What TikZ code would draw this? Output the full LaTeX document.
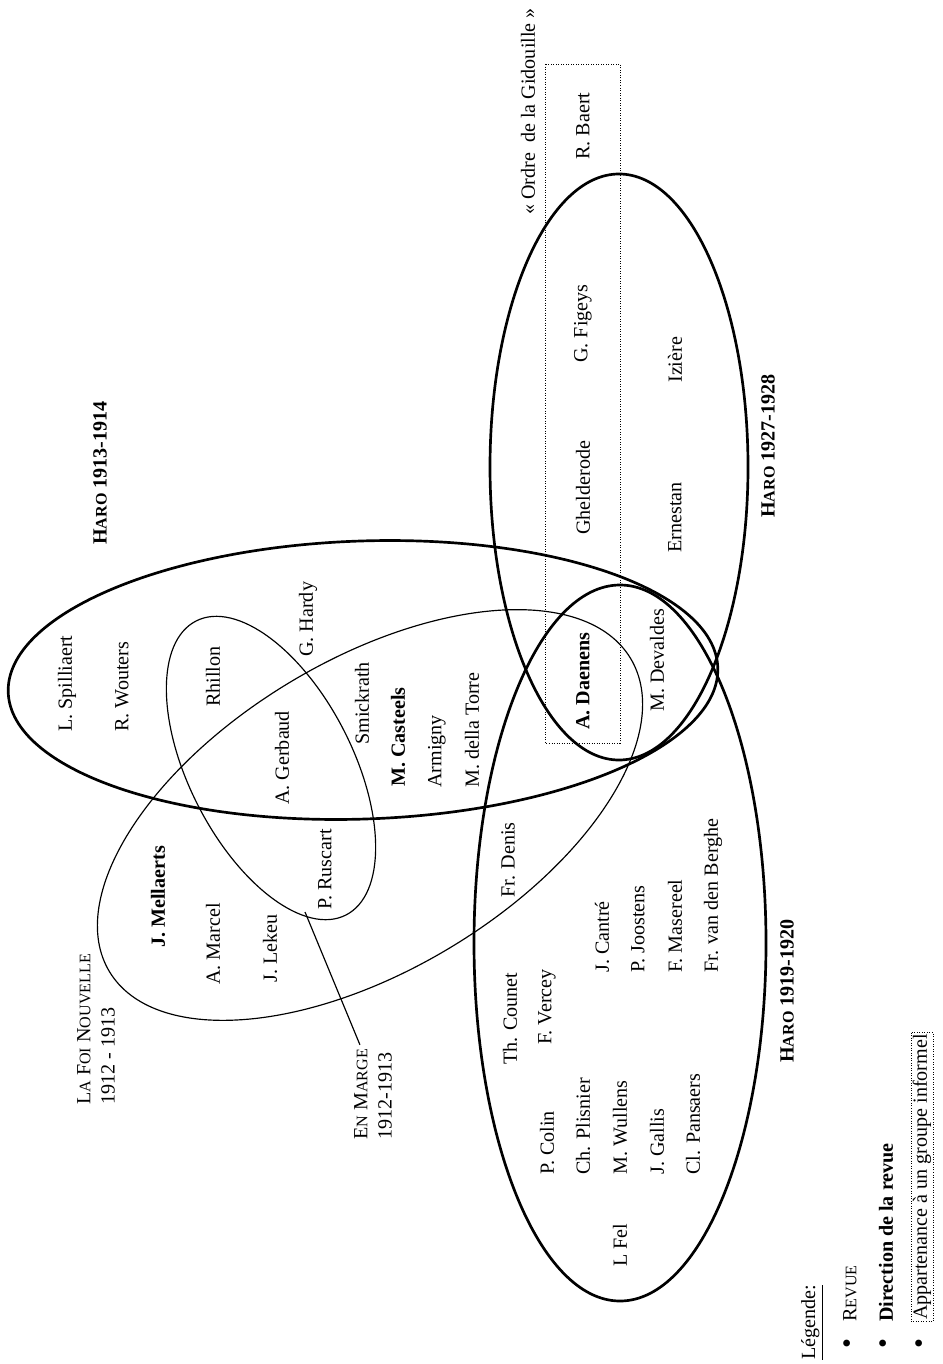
\documentclass[tikz,border=0pt]{standalone}
\usepackage{fontspec}
\setmainfont{Liberation Serif}
\usepackage{tikz}
\usetikzlibrary{calc}

% petites capitales faites a la main
\newcommand{\pc}[1]{{\fontsize{9.6}{11}\selectfont #1}}

\begin{document}
\begin{tikzpicture}[x=0.021cm,y=-0.021cm,
    nom/.style={rotate=90,anchor=west,inner sep=0pt,font=\fontsize{12}{14.4}\selectfont},
    dir/.style={nom,font=\fontsize{12}{14.4}\selectfont\bfseries},
    titre/.style={nom,align=left},
    puce/.style={rotate=90,inner sep=0pt,font=\fontsize{17}{17}\selectfont},
    revue/.style={line width=1.6pt},
    groupe/.style={line width=0.7pt},
    informel/.style={densely dotted,line width=0.5pt}]
  \useasboundingbox (0,0) rectangle (942,1364);

  % les revues
  \draw[revue, rotate around={2:(363,680)}] (363,680) ellipse [x radius=355, y radius=139];
  \draw[revue] (619,467) ellipse [x radius=129, y radius=293];
  \draw[revue] (620,943) ellipse [x radius=146, y radius=358];
  \draw[groupe, rotate around={31:(370,815)}] (370,815) ellipse [x radius=304, y radius=155];
  \draw[groupe, rotate around={-63:(271,768)}] (271,768) ellipse [x radius=165, y radius=82];
  \draw[informel] (545,64) rectangle (620,743);

  % titres
  \node[dir] (haro13) at (100,545) {H\pc{ARO} 1913-1914};
  \node[dir] (haro19) at (787,1063) {H\pc{ARO} 1919-1920};
  \node[dir] (haro27) at (768,518) {H\pc{ARO} 1927-1928};
  \node[titre] (foi) at (96,1105) {L\pc{A} F\pc{OI} N\pc{OUVELLE}\\1912 - 1913};
  \node[titre] (marge) at (373,1140) {E\pc{N} M\pc{ARGE}\\1912-1913};
  \node[nom] (ordre) at (528,215) {« Ordre\ \ de la Gidouille »};

  % Haro 1913-1914
  \node[nom] (spilliaert) at (67,732) {L. Spilliaert};
  \node[nom] (wouters) at (122,732) {R. Wouters};
  \node[nom] (rhillon) at (213,707) {Rhillon};
  \node[nom] (hardy) at (308,657) {G. Hardy};
  \node[nom] (gerbaud) at (282,805) {A. Gerbaud};
  \node[nom] (smickrath) at (362,745) {Smickrath};
  \node[dir] (casteels) at (398,787) {M. Casteels};
  \node[nom] (armigny) at (437,788) {Armigny};
  \node[nom] (torre) at (472,788) {M. della Torre};

  % La Foi Nouvelle, En Marge
  \node[dir] (mellaerts) at (158,948) {J. Mellaerts};
  \node[nom] (marcel) at (213,985) {A. Marcel};
  \node[nom] (lekeu) at (270,983) {J. Lekeu};
  \node[nom] (ruscart) at (325,910) {P. Ruscart};

  % Haro 1919-1920
  \node[nom] (denis) at (508,898) {Fr. Denis};
  \node[nom] (counet) at (510,1065) {Th. Counet};
  \node[nom] (vercey) at (547,1045) {F. Vercey};
  \node[nom] (cantre) at (602,973) {J. Cantré};
  \node[nom] (joostens) at (638,973) {P. Joostens};
  \node[nom] (masereel) at (675,973) {F. Masereel};
  \node[nom] (berghe) at (713,973) {Fr. van den Berghe};
  \node[nom] (colin) at (547,1175) {P. Colin};
  \node[nom] (plisnier) at (583,1175) {Ch. Plisnier};
  \node[nom] (wullens) at (620,1175) {M. Wullens};
  \node[nom] (gallis) at (657,1175) {J. Gallis};
  \node[nom] (pansaers) at (693,1175) {Cl. Pansaers};
  \node[nom] (fel) at (620,1267) {L Fel};

  % Haro 1927-1928 et la Gidouille
  \node[nom] (baert) at (583,160) {R. Baert};
  \node[nom] (figeys) at (583,363) {G. Figeys};
  \node[nom] (ghelderode) at (583,535) {Ghelderode};
  \node[dir] (daenens) at (583,730) {A. Daenens};
  \node[nom] (iziere) at (675,383) {Izière};
  \node[nom] (ernestan) at (675,553) {Ernestan};
  \node[nom] (devaldes) at (657,712) {M. Devaldes};

  \coordinate (rusc) at (305,912);
  \draw[groupe] (rusc) -- ($(marge.north east)+(6,-4)$);

  % legende
  \node[nom] (legende) at (812,1360) {\underline{Légende:}};
  \node[puce] (puce1) at (850,1344) {\textbullet};
  \node[puce] (puce2) at (886,1344) {\textbullet};
  \node[puce] (puce3) at (922,1344) {\textbullet};
  \node[nom] (leg1) at (850,1322) {R\pc{EVUE}};
  \node[dir] (leg2) at (886,1322) {Direction de la revue};
  \node[nom,draw,informel,inner sep=1pt] (leg3) at (922,1322) {Appartenance à un groupe informel};
\end{tikzpicture}
\end{document}
